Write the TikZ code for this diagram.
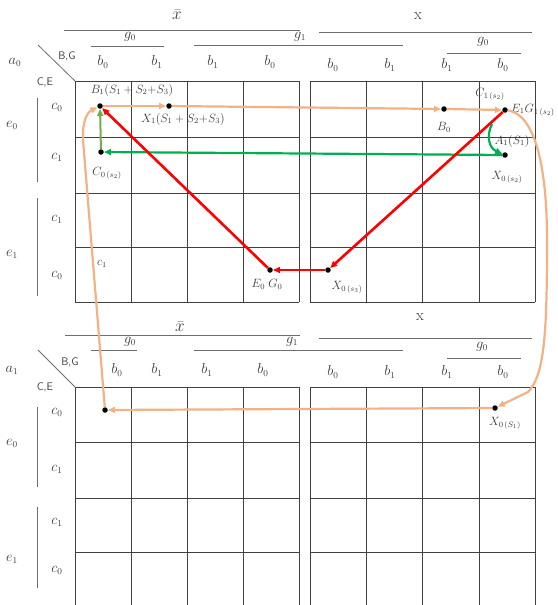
\documentclass[tikz,border=0pt]{standalone}
\usepackage{amsmath}
\usetikzlibrary{arrows.meta,positioning,calc}
\definecolor{peach}{HTML}{F4B183}
\definecolor{gridgray}{HTML}{404040}
\definecolor{headgray}{HTML}{6E6E6E}
\definecolor{labelgray}{HTML}{3A3A3A}
\definecolor{brightgreen}{HTML}{00B050}
\definecolor{leafgreen}{HTML}{70AD47}

\begin{document}
\begin{tikzpicture}[x=1pt, y=-1pt,
  grid line/.style={draw=gridgray, line width=0.8pt},
  head line/.style={draw=headgray, line width=0.8pt},
  hdr/.style={font=\fontsize{13.5}{15}\selectfont, text=labelgray, inner sep=1pt},
  big/.style={font=\fontsize{16}{18}\selectfont, text=labelgray, inner sep=1pt},
  sfhdr/.style={font=\sffamily\fontsize{11}{13}\selectfont, text=labelgray, inner sep=1pt},
  lbl/.style={font=\fontsize{11.5}{13}\selectfont, text=labelgray, inner sep=1pt},
  dot/.style={circle, fill=black, inner sep=0pt, minimum size=5.5pt},
  tip/.style={-{Triangle[length=7pt,width=6pt]}},
  peacharr/.style={tip, draw=peach, line width=2.2pt},
  greenarr/.style={tip, draw=brightgreen, line width=2.2pt},
  redarr/.style={tip, draw=red, line width=2.6pt}]
\useasboundingbox (0,0) rectangle (557,605);

% grids
\foreach \gx in {75,131,187,243,299,310,366,422,479,535} {
  \draw[grid line] (\gx,81) -- (\gx,302);
  \draw[grid line] (\gx,387) -- (\gx,605);
}
\foreach \gy in {81,137,193,247,302} {
  \draw[grid line] (75,\gy) -- (299,\gy);
  \draw[grid line] (310,\gy) -- (535,\gy);
}
\foreach \gy in {387,442,498,552} {
  \draw[grid line] (75,\gy) -- (299,\gy);
  \draw[grid line] (310,\gy) -- (535,\gy);
}

% upper map: column heads
\node[big] (xbar0) at (177,15) {$\bar{x}$};
\node[big] (x0) at (418,16) {x};
\node[hdr] (g0l0) at (130,37) {$g_0$};
\node[hdr] (g10) at (300,37) {$g_1$};
\node[hdr] (g0r0) at (483,42) {$g_0$};
\draw[head line] (64,30) -- (300,30);
\draw[head line] (319,32) -- (532,32);
\draw[head line] (91,46) -- (164,46);
\draw[head line] (194,45) -- (403,45);
\draw[head line] (447,53) -- (521,53);
\foreach \bx/\bi in {103/0,157/1,213/1,270/0}
  \node[hdr] at (\bx,62) {$b_\bi$};
\foreach \bx/\bi in {333/0,390/1,447/1,503/0}
  \node[hdr] at (\bx,65) {$b_\bi$};
\draw[head line] (38,45) -- (75,81);
\node[sfhdr] (bg0) at (67,56) {B,G};
\node[sfhdr] (ce0) at (45,82) {C,E};
\node[hdr] (a0) at (15,62) {$a_0$};

% upper map: row heads
\node[hdr] at (57,107) {$c_0$};
\node[hdr] at (57,157) {$c_1$};
\node[hdr] at (57,219) {$c_1$};
\node[hdr] at (57,275) {$c_0$};
\node[hdr] at (12,125) {$e_0$};
\node[hdr] at (12,254) {$e_1$};
\draw[head line] (37,98) -- (37,182);
\draw[head line] (37,198) -- (37,296);

% lower map: column heads
\node[big] (xbar1) at (180,327) {$\bar{x}$};
\node[big] (x1) at (420,317) {x};
\node[hdr] (g0l1) at (130,342) {$g_0$};
\node[hdr] (g11) at (292,342) {$g_1$};
\node[hdr] (g0r1) at (482,347) {$g_0$};
\draw[head line] (65,335) -- (300,335);
\draw[head line] (319,338) -- (532,338);
\draw[head line] (91,350) -- (137,350);
\draw[head line] (194,350) -- (403,350);
\draw[head line] (447,358) -- (521,358);
\foreach \bx/\bi in {117/0,157/1,207/1,263/0}
  \node[hdr] at (\bx,370) {$b_\bi$};
\foreach \bx/\bi in {333/0,390/1,447/1,503/0}
  \node[hdr] at (\bx,372) {$b_\bi$};
\draw[head line] (38,350) -- (75,387);
\node[sfhdr] (bg1) at (70,362) {B,G};
\node[sfhdr] (ce1) at (45,387) {C,E};
\node[hdr] (a1) at (12,370) {$a_1$};

% lower map: row heads
\node[hdr] at (57,412) {$c_0$};
\node[hdr] at (57,469) {$c_1$};
\node[hdr] at (57,522) {$c_1$};
\node[hdr] at (57,570) {$c_0$};
\node[hdr] at (12,443) {$e_0$};
\node[hdr] at (12,559) {$e_1$};
\draw[head line] (37,407) -- (37,487);
\draw[head line] (37,507) -- (37,588);

% marked cells
\node[dot] (b1) at (100,106) {};
\node[dot] (x1s) at (169,106) {};
\node[dot] (b0) at (444,109) {};
\node[dot] (e1g1) at (505,110) {};
\node[dot] (x0s2) at (505,155) {};
\node[dot] (c0s2) at (101,152) {};
\node[dot] (e0g0) at (270,270) {};
\node[dot] (x0s3) at (328,270) {};
\node[dot] (low) at (105,410) {};
\node[dot] (x0s1) at (495,408) {};
\coordinate (bend) at (492,124);

\node[lbl] at (132,90) {$B_1(S_1+S_2{+}S_3)$};
\node[lbl] at (183,119) {$X_1(S_1+S_2{+}S_3)$};
\node[lbl] at (444,127) {$B_0$};
\node[lbl, anchor=west] at (510,110) {$E_1G_{1\,(s_2)}$};
\node[lbl] at (490,94) {$C_{1\,(s_2)}$};
\node[lbl] at (512,141) {$A_1(S_1)$};
\node[lbl] at (507,177) {$X_{0\,(s_2)}$};
\node[lbl] at (107,173) {$C_{0\,(s_2)}$};
\node[lbl] at (102,264) {$c_1$};
\node[lbl] at (267,284) {$E_0\;G_0$};
\node[lbl] at (347,287) {$X_{0\,(s_3)}$};
\node[lbl] at (505,423) {$X_{0\,(S_1)}$};

% orange loop
\draw[peacharr] (b1) -- (x1s);
\draw[peacharr] (x1s) -- (b0);
\draw[peacharr] (b0) -- (e1g1);
\draw[peacharr] (e1g1) .. controls (533,114) and (547,160) .. (547,240)
  .. controls (547,330) and (545,375) .. (528,392) -- (x0s1);
\draw[peacharr] (x0s1) -- (low);
\draw[peacharr] (low) -- (83,140) .. controls (82,120) and (88,112) .. (b1);

% green moves
\draw[tip, draw=leafgreen, line width=2pt] (c0s2) -- (b1);
\draw[greenarr] (x0s2) -- (c0s2);
\draw[greenarr] (bend) .. controls (486,136) and (489,148) .. (x0s2);

% red moves
\draw[redarr] (e1g1) -- (x0s3);
\draw[redarr] (x0s3) -- (e0g0);
\draw[redarr] (e0g0) -- (b1);
\end{tikzpicture}
\end{document}
